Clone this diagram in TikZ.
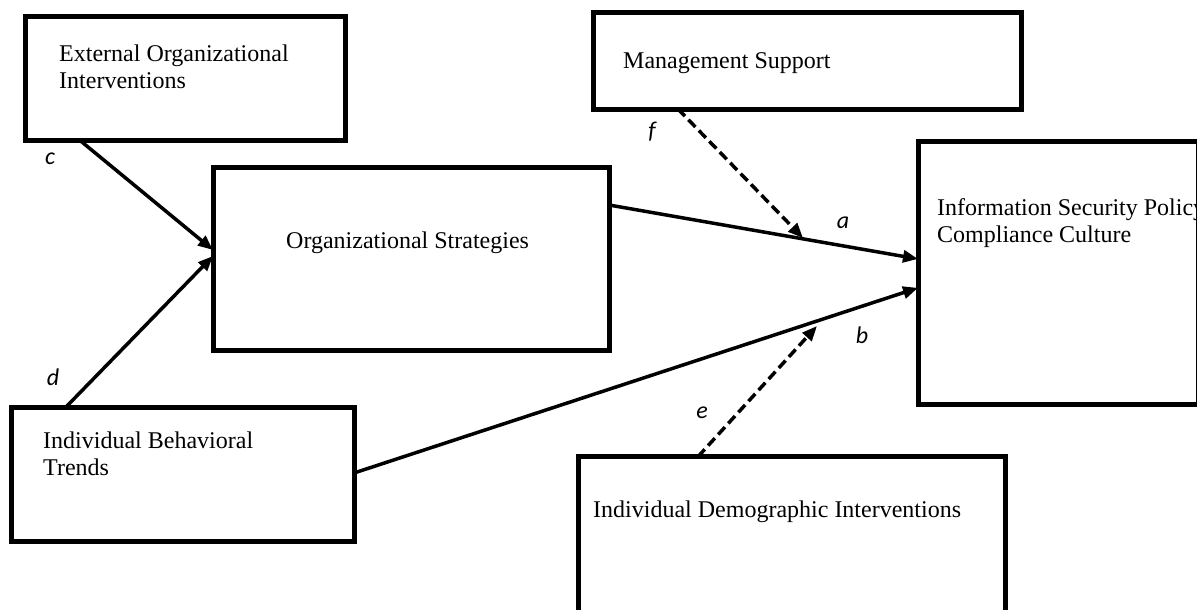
\documentclass[tikz,border=0pt]{standalone}
\usepackage{fontspec}
\setmainfont{Liberation Serif}
\newfontfamily\lblfont{Carlito}
\usetikzlibrary{arrows.meta}
\begin{document}
\begin{tikzpicture}[x=1pt,y=-1pt,
  box/.style={draw, line width=5pt, inner sep=0pt, outer sep=0pt},
  txt/.style={anchor=north west, inner sep=0pt, align=left, font=\fontsize{24}{27}\selectfont},
  lbl/.style={inner sep=0pt, font=\lblfont\itshape\fontsize{24}{28}\selectfont},
  link/.style={line width=3.5pt, -{Triangle[length=15pt,width=12pt]}},
  moderate/.style={link, dash pattern=on 10pt off 5pt}]
\clip (0,0) rectangle (1197,610);
\fill[white] (0,0) rectangle (1197,610);

% boxes
\node[box, minimum width=319.2pt, minimum height=123.3pt] (eoi)   at (185.4,78.35) {};
\node[box, minimum width=428pt,   minimum height=96.7pt]  (ms)    at (807,60.65) {};
\node[box, minimum width=396pt,   minimum height=183pt]   (os)    at (411,258.5) {};
\node[box, minimum width=280pt,   minimum height=262.3pt] (ispcc) at (1058,272.85) {};
\node[box, minimum width=343pt,   minimum height=134.7pt] (ibt)   at (182.5,474.35) {};
\node[box, minimum width=427pt,   minimum height=168.3pt] (idi)   at (791.5,540.85) {};

% box texts
\node[txt] (teoi)   at (59,44.3)   {External Organizational\\Interventions};
\node[txt] (tms)    at (623,52.8)  {Management Support};
\node[txt] (tos)    at (286,231.6) {Organizational Strategies};
\node[txt] (tispcc) at (937,198.6) {Information Security Policy\\Compliance Culture};
\node[txt] (tibt)   at (43,431.9)  {Individual Behavioral\\Trends};
\node[txt] (tidi)   at (593,500.3) {Individual Demographic Interventions};

% direct paths
\draw[link] ([xshift=53.7pt]eoi.south west) -- ([yshift=8.5pt]os.west);
\draw[link] ([xshift=55pt]ibt.north west) -- ([yshift=2.5pt]os.west);
\draw[link] ([yshift=53.5pt]os.east) -- ([yshift=13.9pt]ispcc.west);
\draw[link] ([yshift=1.35pt]ibt.east) -- ([yshift=-15pt]ispcc.west);

% moderating paths
\coordinate (fend) at (803,238);
\coordinate (eend) at (817,326);
\draw[moderate] ([xshift=85pt]ms.south west) -- (fend);
\draw[moderate] ([xshift=120pt]idi.north west) -- (eend);

% path labels
\node[lbl] (la) at (843,223) {a};
\node[lbl] (lb) at (862,335) {b};
\node[lbl] (lc) at (50,159)  {c};
\node[lbl] (ld) at (53,377)  {d};
\node[lbl] (le) at (702,413) {e};
\node[lbl] (lf) at (652,132) {f};
\end{tikzpicture}
\end{document}
